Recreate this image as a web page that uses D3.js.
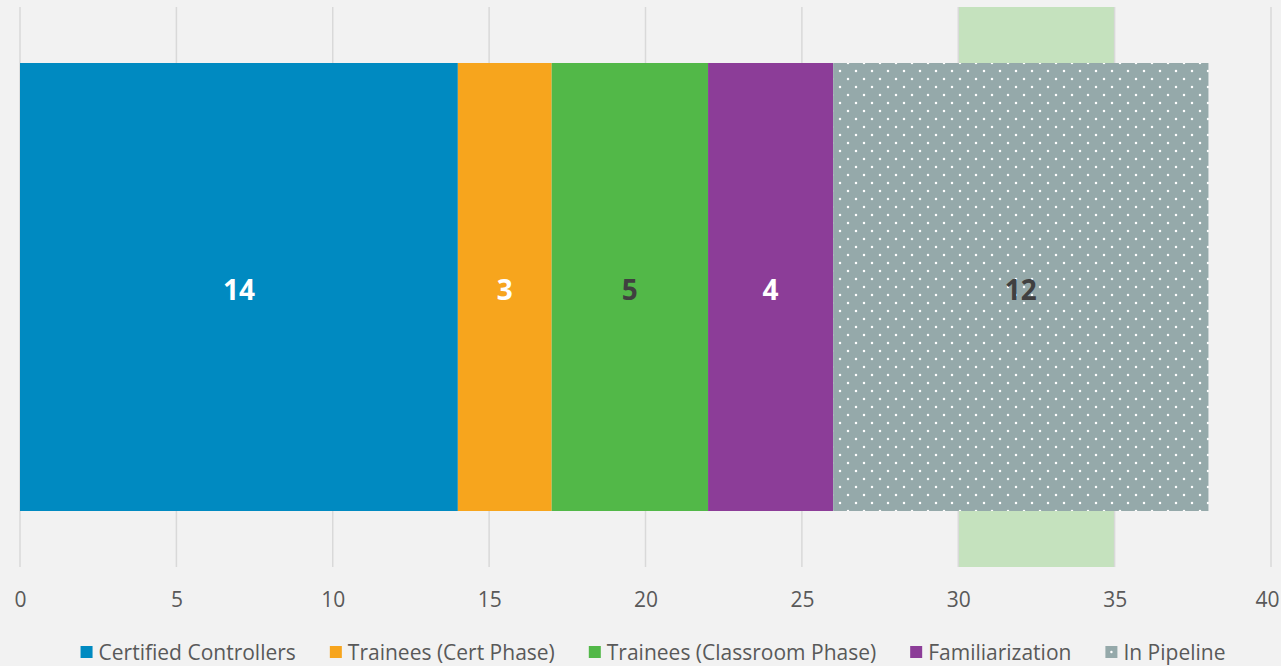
<!DOCTYPE html>
<html>
<head>
<meta charset="utf-8">
<script src="https://cdn.jsdelivr.net/npm/d3@7"></script>
<style>
  html, body { margin: 0; padding: 0; background: #f2f2f2; }
  svg { display: block; }
</style>
</head>
<body>
<svg id="chart" width="1281" height="666"></svg>
<script>
// Staffing breakdown, one stacked horizontal bar
const categories = ["Certified Controllers", "Trainees (Cert Phase)", "Trainees (Classroom Phase)", "Familiarization", "In Pipeline"];
const counts = [14, 3, 5, 4, 12];
const colors = ["#008ac1", "#f7a51d", "#52b848", "#8c3d98", "#95a9aa"];
const labelColors = ["#ffffff", "#ffffff", "#404040", "#ffffff", "#404040"];
const targetRange = [30, 35];
const xTicks = [0, 5, 10, 15, 20, 25, 30, 35, 40];
const xDomain = [0, 40];

const svg = d3.select("#chart");
const W = 1281;
const font = "'Open Sans', sans-serif";

const x = d3.scaleLinear().domain(xDomain).range([20, 1271]);
const plotTop = 7, plotBottom = 567;

// dotted fill for the pipeline segment
const defs = svg.append("defs");
const pat = defs.append("pattern")
  .attr("id", "dots").attr("patternUnits", "userSpaceOnUse")
  .attr("width", 16).attr("height", 16).attr("x", 4).attr("y", 3);
pat.append("rect").attr("width", 16).attr("height", 16).attr("fill", colors[4]);
pat.append("circle").attr("cx", 4).attr("cy", 4).attr("r", 1.25).attr("fill", "#ffffff");
pat.append("circle").attr("cx", 12).attr("cy", 12).attr("r", 1.25).attr("fill", "#ffffff");

// target band
svg.append("rect")
  .attr("x", x(targetRange[0])).attr("y", plotTop)
  .attr("width", x(targetRange[1]) - x(targetRange[0]))
  .attr("height", plotBottom - plotTop)
  .attr("fill", "#c5e2be");

// vertical gridlines
svg.append("g").selectAll("line").data(xTicks).join("line")
  .attr("x1", d => x(d)).attr("x2", d => x(d))
  .attr("y1", plotTop).attr("y2", plotBottom)
  .attr("stroke", "#d9d9d9").attr("stroke-width", 1.5);

// x axis labels
const axis = d3.axisBottom(x).tickValues(xTicks).tickSize(0).tickPadding(0).tickFormat(d3.format("d"));
const gAxis = svg.append("g").attr("transform", `translate(0, 599)`).call(axis);
gAxis.select(".domain").remove();
gAxis.selectAll("text")
  .attr("font-family", font).attr("font-size", 21).attr("fill", "#595959")
  .attr("dy", null).attr("y", 0).attr("dominant-baseline", "central");
// keep edge labels inside the frame
gAxis.selectAll(".tick text").each(function(d) {
  const w = this.getComputedTextLength();
  const cx = x(d);
  const right = cx + w / 2, left = cx - w / 2;
  let shift = 0;
  if (right > W - 2) shift = (W - 2) - right;
  if (left < 2) shift = 2 - left;
  d3.select(this).attr("x", shift);
});

// stacked segments
let acc = 0;
const segs = counts.map((v, i) => { const s = { i, v, x0: acc, x1: acc + v }; acc += v; return s; });
const barY = 63, barH = 511 - 63;

svg.append("g").selectAll("rect").data(segs).join("rect")
  .attr("x", d => x(d.x0)).attr("y", barY)
  .attr("width", d => x(d.x1) - x(d.x0)).attr("height", barH)
  .attr("fill", d => d.i === 4 ? "url(#dots)" : colors[d.i]);

svg.append("g").selectAll("text").data(segs).join("text")
  .attr("x", d => x((d.x0 + d.x1) / 2)).attr("y", barY + barH / 2 + 2)
  .attr("text-anchor", "middle").attr("dominant-baseline", "central")
  .attr("font-family", font).attr("font-weight", "bold").attr("font-size", 28)
  .attr("fill", d => labelColors[d.i])
  .text(d => d.v);

// legend, laid out by measured text width and centered
const legend = svg.append("g");
const items = legend.selectAll("g").data(categories).join("g");
items.append("rect").attr("width", 12).attr("height", 12).attr("y", -6)
  .attr("fill", (d, i) => colors[i]);
items.filter((d, i) => i === 4).append("circle").attr("cx", 6).attr("cy", 0).attr("r", 1.2).attr("fill", "#fff");
items.append("text").attr("x", 18).attr("dominant-baseline", "central")
  .attr("font-family", font).attr("font-size", 21).attr("fill", "#595959")
  .text(d => d);
const gap = 34;
const widths = [];
items.each(function() {
  widths.push(18 + this.querySelector("text").getComputedTextLength());
});
items.attr("transform", (d, i) => {
  const pos = widths.slice(0, i).reduce((a, b) => a + b + gap, 0);
  return `translate(${pos}, 0)`;
});
const total = widths.reduce((a, b) => a + b, 0) + gap * (widths.length - 1);
legend.attr("transform", `translate(${653 - total / 2}, 652)`);
</script>
</body>
</html>
